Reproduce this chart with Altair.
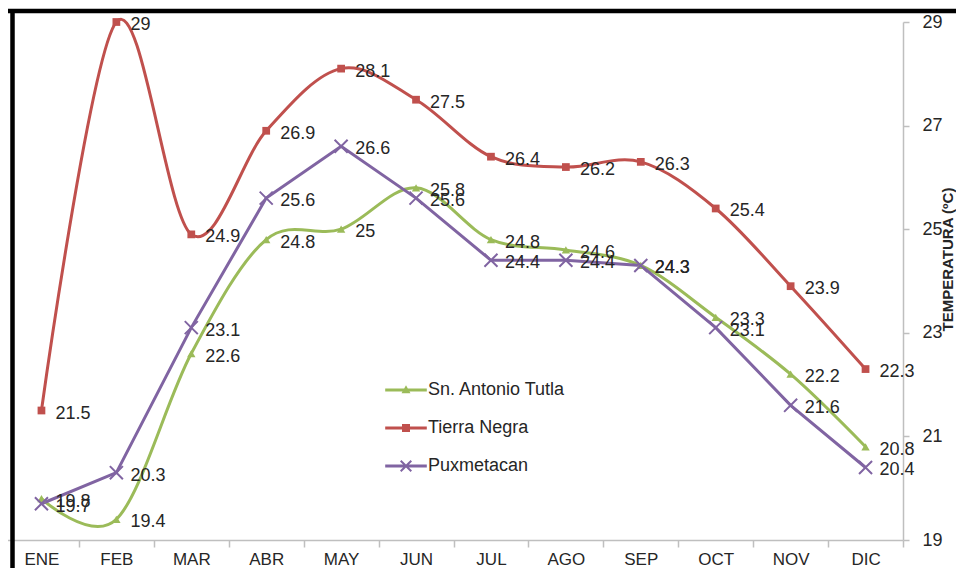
import altair as alt
import pandas as pd

months = ["ENE", "FEB", "MAR", "ABR", "MAY", "JUN", "JUL", "AGO", "SEP", "OCT", "NOV", "DIC"]
series_names = ["Sn. Antonio Tutla", "Tierra Negra", "Puxmetacan"]
tutla = [19.8, 19.4, 22.6, 24.8, 25.0, 25.8, 24.8, 24.6, 24.3, 23.3, 22.2, 20.8]
negra = [21.5, 29.0, 24.9, 26.9, 28.1, 27.5, 26.4, 26.2, 26.3, 25.4, 23.9, 22.3]
pux = [19.7, 20.3, 23.1, 25.6, 26.6, 25.6, 24.4, 24.4, 24.3, 23.1, 21.6, 20.4]
colors = ["#9BBB59", "#C0504D", "#8064A2"]
y_ticks = [19, 21, 23, 25, 27, 29]

rows = []
for name, vals in zip(series_names, [tutla, negra, pux]):
    for m, v in zip(months, vals):
        rows.append({"series": name, "month": m, "value": v, "label": f"{v:g}"})
df = pd.DataFrame(rows)

FONT = "Liberation Sans"
W, H = 891, 518

x_enc = alt.X(
    "month:N",
    sort=months,
    scale=alt.Scale(type="band", domain=months, range=[-8, W], paddingInner=0, paddingOuter=0),
    axis=alt.Axis(
        title=None, labelAngle=0, tickBand="extent", grid=False,
        domainColor="#BFBFBF", domainWidth=1.5, tickColor="#BFBFBF", tickWidth=1.5, tickSize=7,
        labelPadding=4, labelFontSize=17, labelFont=FONT, labelColor="#262626",
    ),
)
y_enc = alt.Y(
    "value:Q",
    scale=alt.Scale(domain=[19, 29], nice=False, zero=False),
    axis=alt.Axis(
        orient="right", values=y_ticks, grid=False,
        domainColor="#BFBFBF", domainWidth=1.5, tickColor="#BFBFBF", tickWidth=1.5, tickSize=6,
        labelPadding=13, labelFontSize=18, labelFont=FONT, labelColor="#262626",
        title="TEMPERATURA (ºC)", titleFont=FONT, titleFontSize=15, titleFontWeight="bold",
        titleColor="#262626", titleAngle=270, titleX=44, titleY=237,
        titleAlign="center", titleBaseline="middle",
    ),
)

base = alt.Chart(df)


def only(name):
    return base.transform_filter(alt.FieldEqualPredicate(field="series", equal=name))


line_t = only(series_names[0]).mark_line(interpolate="cardinal", strokeWidth=3, color=colors[0]).encode(x=x_enc, y=y_enc)
line_n = only(series_names[1]).mark_line(interpolate="cardinal", strokeWidth=3, color=colors[1]).encode(x=x_enc, y=y_enc)
line_p = only(series_names[2]).mark_line(strokeWidth=3, color=colors[2]).encode(x=x_enc, y=y_enc)

pts_tri = only(series_names[0]).mark_point(shape="triangle-up", filled=True, size=70, opacity=1,
                                           color=colors[0]).encode(x=x_enc, y=y_enc)
pts_sq = only(series_names[1]).mark_point(shape="square", filled=True, size=60, opacity=1,
                                          color=colors[1]).encode(x=x_enc, y=y_enc)
pts_x = only(series_names[2]).mark_point(shape="M-1,-1L1,1M1,-1L-1,1", filled=False, size=170,
                                         strokeWidth=2, opacity=1, color=colors[2]).encode(x=x_enc, y=y_enc)

labels = base.mark_text(align="left", baseline="middle", dx=14, dy=3, fontSize=18, font=FONT,
                        color="#262626").encode(x=x_enc, y=y_enc, text="label:N")

seg = "M-1.3,-0.094H1.3V0.094H-1.3Z"
tri_p = "M0,-0.3L0.28,0.2L-0.28,0.2Z"
sq_p = "M-0.25,-0.25H0.25V0.25H-0.25Z"
a, e = 0.375, 0.088
x_p = (f"M{-a},{-a+e}L{-a+e},{-a}L0,{-e}L{a-e},{-a}L{a},{-a+e}L{e},0L{a},{a-e}L{a-e},{a}"
       f"L0,{e}L{-a+e},{a}L{-a},{a-e}L{-e},0Z")
leg_shapes = [seg + tri_p, seg + sq_p, seg + x_p]

legend_cfg = dict(
    title=None, orient="none", legendX=378, legendY=352, padding=0,
    symbolSize=1024, symbolStrokeWidth=0, symbolOpacity=1, rowPadding=13, labelOffset=6,
    labelFontSize=18, labelFont=FONT, labelColor="#262626",
)
legend_layer = base.transform_filter(
    alt.FieldEqualPredicate(field="month", equal="ENE")
).mark_point(filled=True, opacity=0).encode(
    x=x_enc, y=y_enc,
    color=alt.Color("series:N", scale=alt.Scale(domain=series_names, range=colors),
                    legend=alt.Legend(**legend_cfg)),
    shape=alt.Shape("series:N", scale=alt.Scale(domain=series_names, range=leg_shapes),
                    legend=alt.Legend(**legend_cfg)),
)

one = alt.Data(values=[{"k": 1}])
border_top = alt.Chart(one).mark_rule(color="black", strokeWidth=4.5).encode(
    x=alt.value(-6), x2=alt.value(960), y=alt.value(-11))
border_left = alt.Chart(one).mark_rule(color="black", strokeWidth=4.5).encode(
    x=alt.value(0.5), y=alt.value(-13), y2=alt.value(570))

chart = alt.layer(
    line_t, line_n, line_p, pts_tri, pts_sq, pts_x, labels, legend_layer, border_top, border_left
).properties(
    width=W, height=H,
    autosize=alt.AutoSizeParams(type="none"),
    padding={"left": 4, "top": 14, "right": 53, "bottom": 28},
).configure_view(strokeWidth=0)

chart.save("out.html", embed_options={"renderer": "svg", "actions": False})
